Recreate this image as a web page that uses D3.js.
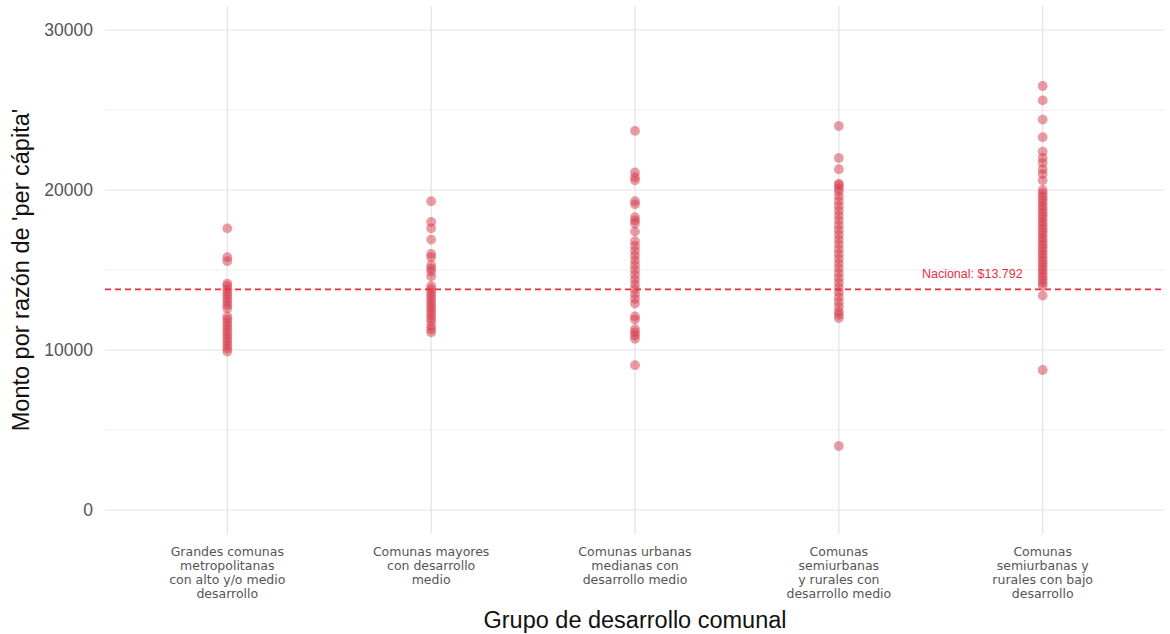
<!DOCTYPE html>
<html><head><meta charset="utf-8">
<script src="https://cdn.jsdelivr.net/npm/d3@7"></script>
<style>body{margin:0;background:#fff}svg{display:block}</style>
</head><body>
<svg id="c" width="1170" height="634"></svg>
<script>
const categories = [
  ["Grandes comunas","metropolitanas","con alto y/o medio","desarrollo"],
  ["Comunas mayores","con desarrollo","medio"],
  ["Comunas urbanas","medianas con","desarrollo medio"],
  ["Comunas","semiurbanas","y rurales con","desarrollo medio"],
  ["Comunas","semiurbanas y","rurales con bajo","desarrollo"]
];
const group1 = [17600,15800,15550,14150,14000,13800,13600,13400,13200,13000,12800,12600,12100,11900,11700,11500,11300,11100,10900,10700,10500,10300,10100,9900];
const group2 = [19300,18000,17600,16900,16000,15800,15300,15100,14900,14600,14000,13800,13600,13400,13200,13000,12800,12600,12400,12200,12000,11800,11500,11300,11100];
const group3 = [23700,21100,20800,20600,19300,19100,18300,18100,17900,17400,16800,16500,16200,15900,15600,15300,15000,14700,14400,14100,13800,13500,13200,12900,12100,11900,11300,11100,10900,10700,9050];
const group4 = [24000,22000,21300,20400,20300,20100,19900,19600,19300,19000,18700,18400,18100,17800,17500,17200,16900,16600,16300,16000,15700,15400,15100,14800,14500,14200,13900,13600,13300,13000,12700,12400,12200,12000,4000];
const group5 = [26500,25600,24400,23300,22400,22000,21700,21300,21000,20600,20000,19800,19600,19400,19200,19000,18800,18600,18400,18200,18000,17800,17600,17400,17200,17000,16800,16600,16400,16200,16000,15800,15600,15400,15200,15000,14800,14600,14400,14200,14000,13400,8750];
const groups = [group1,group2,group3,group4,group5];
const yTicks = [0,10000,20000,30000];
const yMinor = [5000,15000,25000];
const national = 13792;
const nationalLabel = "Nacional: $13.792";
const xTitle = "Grupo de desarrollo comunal";
const yTitle = "Monto por razón de 'per cápita'";

const svg = d3.select("#c");
const left = 105, right = 1165;
const x = d3.scalePoint().domain(d3.range(categories.length)).range([left, right]).padding(0.6);
const y = d3.scaleLinear().domain([0,30000]).range([510,30]);

const g = svg.append("g");
g.selectAll("line.minor").data(yMinor).join("line")
  .attr("x1",left).attr("x2",right).attr("y1",d=>y(d)).attr("y2",d=>y(d))
  .attr("stroke","#eeeeee").attr("stroke-width",1);
g.selectAll("line.major").data(yTicks).join("line")
  .attr("x1",left).attr("x2",right).attr("y1",d=>y(d)).attr("y2",d=>y(d))
  .attr("stroke","#e3e3e3").attr("stroke-width",1.2);
g.selectAll("line.vx").data(d3.range(categories.length)).join("line")
  .attr("x1",d=>x(d)).attr("x2",d=>x(d)).attr("y1",6).attr("y2",534)
  .attr("stroke","#e3e3e3").attr("stroke-width",1.2);

const yAxis = d3.axisLeft(y).tickValues(yTicks).tickSize(0).tickPadding(12).tickFormat(d3.format("d"));
const ya = svg.append("g").attr("transform",`translate(${left},0)`).call(yAxis);
ya.select(".domain").remove();
ya.selectAll("text").attr("font-family","Liberation Sans, Arial, sans-serif").attr("font-size",17.5).attr("fill","#555");

const xa = svg.append("g");
categories.forEach((lines,i)=>{
  const t = xa.append("text").attr("x",x(i)).attr("y",556).attr("text-anchor","middle")
    .attr("font-family","DejaVu Sans, sans-serif").attr("font-size",12.5).attr("fill","#555");
  lines.forEach((l,j)=>t.append("tspan").attr("x",x(i)).attr("dy",j===0?0:14).text(l));
});

groups.forEach((vals,i)=>{
  svg.append("g").selectAll("circle").data(vals).join("circle")
    .attr("cx",x(i)).attr("cy",d=>y(d)).attr("r",4.9)
    .attr("fill","#d63a4a").attr("fill-opacity",0.5);
});

svg.append("line").attr("x1",left).attr("x2",right).attr("y1",y(national)).attr("y2",y(national))
  .attr("stroke","#e8303f").attr("stroke-width",1.6).attr("stroke-dasharray","6,4");
svg.append("text").attr("x",x(4)-20).attr("y",y(national)-11).attr("text-anchor","end")
  .attr("font-family","Liberation Sans Narrow, Liberation Sans, Arial, sans-serif").attr("font-size",12.5)
  .attr("fill","#e8303f").text(nationalLabel);

svg.append("text").attr("x",x(2)).attr("y",628).attr("text-anchor","middle")
  .attr("font-family","Liberation Sans, Arial, sans-serif").attr("font-size",23.5).attr("fill","#111").text(xTitle);
svg.append("text").attr("transform",`translate(29,270) rotate(-90)`).attr("text-anchor","middle")
  .attr("font-family","Liberation Sans, Arial, sans-serif").attr("font-size",23.5).attr("fill","#111").text(yTitle);
</script>
</body></html>
